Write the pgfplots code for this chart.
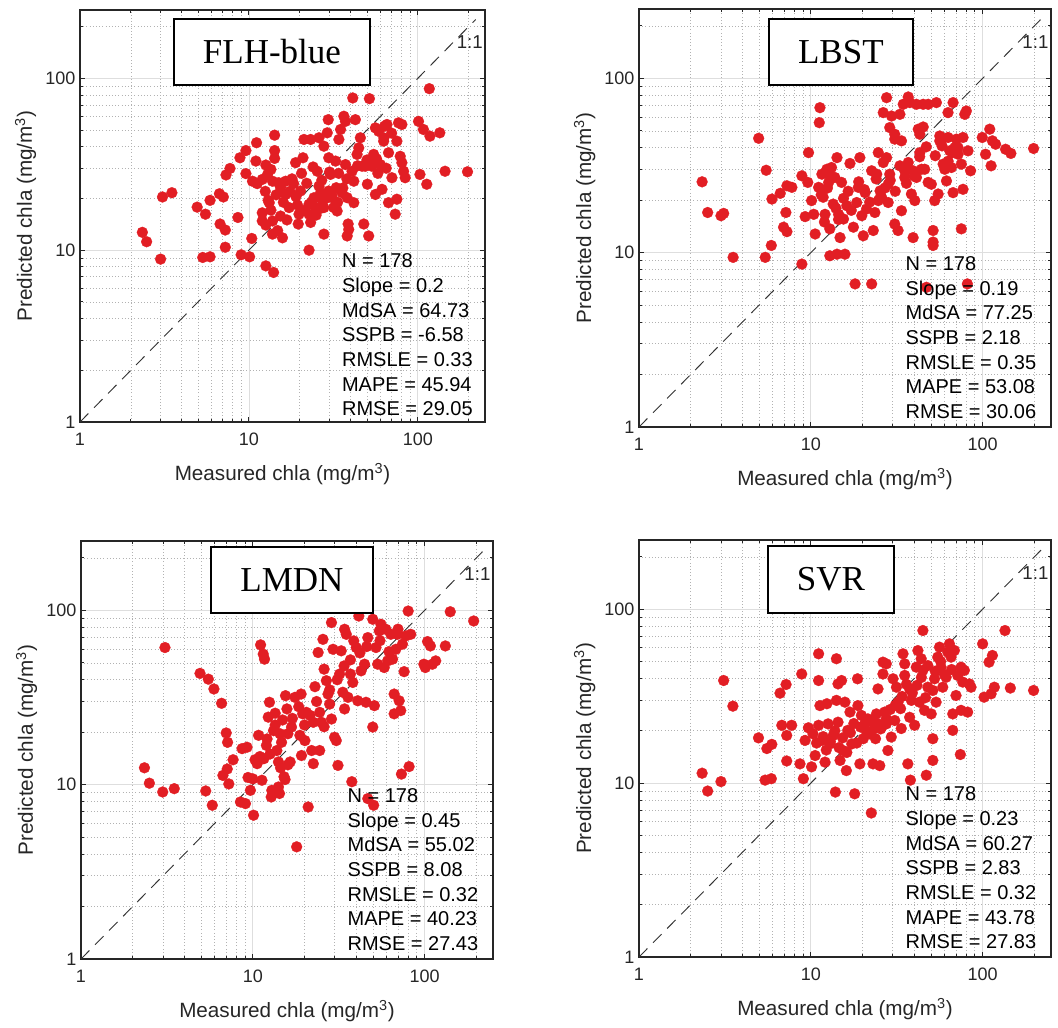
\documentclass[border=0pt]{standalone}
\usepackage{pgfplots}
\pgfplotsset{compat=1.18}
\usepackage{pgfplotstable}
\usepackage{fontspec}
\setmainfont{Liberation Sans}
\newfontfamily\titlefont{Liberation Serif}

\definecolor{dotred}{RGB}{226,30,36}
\definecolor{axgray}{RGB}{38,38,38}

% measured vs predicted chla, one table per model
\pgfplotstableread{
x y
2.34 12.7
2.48 11.2
3.0 8.87
3.08 20.4
3.5 21.6
4.94 17.8
5.53 16.2
5.33 9.07
5.89 9.15
5.89 19.5
6.69 21.3
7.06 20.4
6.75 14.2
7.25 13.1
7.25 10.4
7.32 27.4
7.73 29.9
8.61 15.5
8.85 34.5
9.6 38.0
9.6 27.9
9.0 9.4
10.1 9.15
10.4 11.7
11.1 42.2
11.0 33.0
10.5 25.2
11.2 24.4
12.0 25.8
12.6 31.3
12.9 27.6
12.0 14.8
12.6 14.0
12.6 8.1
14.0 7.42
14.2 46.7
14.2 38.0
14.2 34.2
13.5 29.5
13.8 25.2
13.2 18.9
13.5 17.1
13.8 14.8
13.8 12.4
15.0 24.7
15.4 23.1
15.4 15.8
15.8 11.8
16.5 25.2
16.5 21.1
17.3 17.7
18.4 24.4
18.9 32.3
19.4 18.3
19.8 16.2
19.6 14.2
20.2 22.1
20.9 34.5
21.2 44.1
22.7 10.0
23.2 44.1
22.7 18.5
22.7 16.2
23.2 14.5
24.3 20.2
24.8 17.7
25.4 28.8
26.0 45.1
26.0 23.6
26.6 21.6
27.2 19.3
27.8 17.7
27.8 12.4
27.8 40.3
29.1 48.2
29.5 57.5
29.7 34.5
30.4 27.6
29.7 22.1
31.1 20.2
31.8 17.7
32.6 33.0
32.9 23.1
33.3 16.9
34.1 44.1
34.9 50.4
35.6 21.6
36.5 60.2
37.3 56.2
37.3 31.5
38.2 20.2
38.7 14.2
38.2 12.1
39.0 13.2
41.2 76.9
40.8 28.8
41.8 25.2
41.8 18.9
42.7 57.5
43.7 36.1
44.7 39.4
45.7 45.1
46.8 30.8
47.9 14.2
48.9 30.8
50.3 24.2
51.2 12.1
51.7 76.2
53.5 30.8
54.8 36.1
56.1 21.1
56.1 51.5
58.7 49.2
60.0 31.5
61.4 22.6
62.8 43.1
63.6 52.7
65.7 53.9
67.1 18.9
67.1 36.9
70.3 26.4
73.5 16.2
75.2 19.8
75.2 43.1
76.9 55.1
78.7 35.2
80.5 53.9
80.5 32.3
82.4 28.8
84.2 26.4
101 56.2
103 27.6
108 50.4
113 24.2
117 87.1
118 46.1
135 48.2
145 28.8
197 28.6
12.5 22.0
13.0 19.5
14.5 21.0
16.0 19.0
17.5 22.0
19.0 20.5
21.0 17.0
23.5 19.0
25.0 16.0
26.5 17.5
28.5 20.0
31.0 21.0
33.5 19.0
36.0 23.0
12.0 16.5
14.8 13.0
16.8 15.0
18.0 26.0
20.5 28.0
22.0 24.5
24.0 30.5
27.0 25.5
30.0 28.5
34.0 28.0
38.0 26.0
44.0 31.0
50.0 33.5
57.0 34.0
63.0 45.0
70.0 48.0
58.0 28.0
65.0 30.0
}\flhblue

\pgfplotstableread{
x y
2.33 25.5
2.51 17.0
3.0 16.3
3.11 16.8
3.53 9.4
4.97 45.3
5.5 29.7
5.43 9.4
5.89 11.0
5.94 20.3
6.64 21.9
7.26 24.2
7.76 23.7
7.16 17.0
6.94 14.0
7.26 13.2
8.87 27.6
9.6 25.3
9.7 37.5
8.87 8.6
9.27 16.1
10.1 19.9
10.4 16.6
10.6 12.8
11.1 23.7
11.3 67.9
11.2 55.7
11.6 28.2
11.8 20.8
12.1 16.6
12.4 30.1
12.7 25.3
12.9 13.7
12.9 9.6
13.2 30.8
13.5 19.0
13.8 27.0
14.2 35.1
14.5 16.6
14.8 12.2
14.2 9.8
15.1 25.3
15.5 15.6
15.8 9.8
16.2 18.6
16.9 32.5
17.7 14.0
18.1 6.62
18.5 19.4
19.3 35.1
18.9 23.7
19.8 16.3
20.2 12.5
20.7 22.1
21.1 17.8
22.6 6.62
22.6 29.5
23.1 13.4
23.6 17.0
24.2 28.2
24.7 37.5
24.7 19.9
25.3 22.6
25.8 20.8
26.4 32.9
26.4 63.6
27.6 77.5
27.6 35.1
28.2 24.7
28.2 19.4
28.8 28.2
28.8 52.2
29.5 60.8
30.8 47.8
30.8 44.8
30.8 14.6
32.2 13.4
33.0 62.2
33.7 43.8
33.7 17.4
34.5 71.0
35.2 27.0
35.2 29.5
36.9 78.2
36.9 32.9
37.7 72.6
38.5 21.7
39.4 29.5
40.3 19.9
39.4 12.2
41.2 71.0
41.2 27.0
42.2 51.1
43.1 47.8
43.1 37.5
44.1 30.1
45.1 71.0
45.1 52.6
46.0 30.1
47.1 6.33
48.2 25.3
48.2 71.0
50.3 24.7
51.5 11.5
51.5 13.4
51.5 11.0
52.6 19.9
53.8 72.6
55.1 21.7
56.3 46.7
56.3 43.8
58.9 32.2
60.2 30.1
61.6 25.8
62.9 63.6
62.9 45.8
64.4 38.4
65.8 30.8
67.3 72.6
67.3 22.1
68.9 40.1
70.4 44.8
72.0 36.7
75.2 32.2
75.2 13.7
76.9 45.8
76.9 23.1
78.7 62.2
80.4 65.0
81.5 6.62
82.2 38.4
85.1 29.5
99.5 45.8
104 36.7
110 51.1
112 31.5
114 43.8
119 41.9
136 39.2
146 37.1
198 39.6
11.5 21.5
12.5 23.5
13.0 27.5
14.0 18.0
15.5 20.5
16.5 22.5
17.2 17.5
19.0 25.5
20.5 23.0
22.0 19.5
24.0 26.5
25.5 21.0
27.0 23.5
29.0 26.0
31.0 22.5
33.0 31.5
36.0 25.0
40.0 27.5
43.0 35.5
47.0 40.5
53.0 36.0
58.0 41.0
63.0 33.5
67.0 37.5
72.0 40.0
12.0 15.0
14.5 15.5
}\lbst

\pgfplotstableread{
x y
2.34 12.5
2.50 10.2
2.99 9.08
3.49 9.49
3.08 61.2
4.93 43.5
5.51 40.3
5.94 35.4
6.58 29.3
5.32 9.2
5.81 7.62
7.0 19.8
7.13 17.5
6.70 11.3
7.10 12.3
7.25 10.1
7.68 13.9
8.66 16.1
9.25 16.4
8.47 7.96
9.06 7.79
9.38 11.0
9.68 9.28
10.1 6.68
10.0 10.8
10.3 13.9
10.6 13.2
10.8 19.2
11.1 63.4
11.5 56.1
11.7 52.5
11.3 10.6
11.6 14.1
12.1 18.3
12.3 24.4
12.5 29.7
12.6 15.0
12.8 8.5
12.9 9.28
13.2 20.4
13.5 25.7
13.8 15.7
14.1 13.5
14.1 9.7
14.3 8.9
14.4 19.6
14.7 17.5
14.9 23.5
15.2 11.1
15.4 10.7
15.5 32.4
15.8 27.2
16.0 19.6
16.5 13.5
16.8 21.4
17.6 31.7
18.0 4.4
18.8 19.2
19.1 33.1
19.2 14.7
19.5 25.5
20.1 17.9
20.5 26.0
21.0 7.45
22.0 15.7
22.5 22.8
22.5 13.2
23.0 36.5
24.0 57.3
24.5 26.0
24.5 15.7
25.1 22.8
25.6 68.2
26.0 46.0
26.8 39.5
27.4 33.1
28.0 29.0
28.7 85.1
28.7 23.8
29.3 59.8
29.9 18.7
30.6 17.9
31.3 12.9
32.0 43.1
32.7 58.6
33.4 33.9
34.2 77.9
34.2 27.2
35.0 72.9
35.8 31.7
37.0 43.1
37.7 10.4
38.2 38.6
38.7 66.8
40.0 61.2
40.8 30.3
41.4 92.8
42.7 45.0
44.7 49.1
45.6 29.7
46.7 8.32
46.7 69.8
49.9 21.4
49.9 88.9
50.5 7.62
51.0 28.4
52.1 61.2
53.3 49.1
54.5 76.2
55.7 83.2
58.2 47.0
59.5 77.9
60.9 51.3
63.6 72.9
65.1 52.5
66.5 33.1
66.5 25.5
68.0 59.8
69.5 72.9
71.1 30.3
72.6 26.6
73.3 11.5
74.3 64.0
76.0 44.5
77.6 71.3
80.2 99.1
81.2 12.7
83.0 72.9
99 49.1
101 47.0
104 66.2
108 62.5
111 49.1
116 51.3
132 62.5
141 98.2
193 86.9
11.0 14.5
12.0 16.8
13.5 22.0
14.5 12.5
16.0 13.0
17.0 24.0
18.5 28.0
20.0 22.0
21.5 25.0
23.5 30.0
26.0 21.5
28.0 35.0
31.0 40.0
34.0 48.0
37.0 52.0
42.0 57.0
46.0 62.0
55.0 67.0
62.0 58.0
70.0 78.0
}\lmdn

\pgfplotstableread{
x y
2.33 11.4
2.51 9.0
3.0 10.2
3.11 38.9
3.52 27.7
4.96 18.2
5.42 10.4
5.55 15.8
5.93 16.7
5.89 10.6
6.62 32.9
7.18 36.9
6.78 21.5
7.24 18.8
7.74 21.5
7.24 13.4
8.85 42.4
8.65 12.9
9.05 10.6
9.26 17.6
9.68 20.8
10.1 12.4
10.3 19.2
10.6 14.4
11.1 55.4
11.1 38.9
11.3 27.9
11.1 21.5
11.6 17.6
12.1 13.2
12.4 28.6
12.6 21.9
12.9 16.8
13.5 18.8
13.9 8.88
14.1 51.9
14.4 37.2
14.1 29.9
14.4 22.4
14.8 13.5
15.1 38.9
15.4 15.4
15.8 29.2
16.1 11.8
16.4 20.1
16.9 25.6
17.3 16.8
18.0 8.68
18.7 39.8
18.8 27.9
19.3 12.9
19.7 24.5
20.2 18.0
20.6 21.9
21.5 23.4
22.0 19.2
22.5 6.73
23.0 12.9
23.5 20.6
24.1 25.0
24.6 34.8
25.2 12.6
25.8 21.0
26.3 49.6
26.3 42.4
26.9 25.6
27.5 48.5
27.5 21.9
28.1 15.4
29.4 18.4
30.1 39.8
30.8 22.9
31.5 35.6
32.2 29.2
33.3 26.8
33.6 20.6
34.4 55.4
35.2 41.6
35.2 48.5
36.7 12.9
37.6 34.8
37.6 23.9
38.0 10.4
38.5 29.9
40.2 21.5
41.1 46.4
42.0 57.8
42.9 29.2
43.9 51.9
44.9 44.5
44.9 75.4
45.9 26.2
47.0 11.1
48.0 35.6
48.0 47.4
50.2 25.0
51.3 13.5
51.3 18.0
51.3 34.1
52.5 39.8
53.6 29.2
54.8 53.0
56.1 60.5
57.3 46.4
58.6 35.6
61.3 40.6
62.7 56.6
64.1 63.2
65.5 53.0
67.0 25.0
67.0 20.1
68.5 57.9
70.0 31.9
71.6 41.6
74.2 14.6
74.9 46.4
74.9 26.2
76.6 38.1
78.3 44.5
81.8 25.6
83.7 37.2
85.6 35.6
100 63.2
102 31.2
109 49.6
112 32.6
114 54.2
117 35.6
135 75.4
145 35.2
198 34.1
10.8 17.0
11.8 18.5
12.3 15.5
13.0 17.3
13.8 20.0
14.6 16.0
15.3 18.2
16.2 15.0
17.0 19.5
17.8 22.0
18.5 17.0
19.5 21.0
21.0 20.0
22.5 22.5
23.8 18.0
24.5 22.0
25.5 20.5
27.5 23.5
29.0 26.5
31.0 28.0
34.0 31.5
36.0 37.0
39.0 33.0
41.5 36.5
44.0 40.5
46.5 31.0
53.0 44.0
57.0 50.0
60.0 42.0
66.0 45.0
}\svr

\pgfplotsset{
  chlapanel/.style={
    scale only axis,
    xmin=1, xmax=250, ymin=1, ymax=250,
    xtick={1,10,100}, ytick={1,10,100},
    xticklabels={1,10,100}, yticklabels={1,10,100},
    minor xtick={2,3,4,5,6,7,8,9,20,30,40,50,60,70,80,90,200},
    minor ytick={2,3,4,5,6,7,8,9,20,30,40,50,60,70,80,90,200},
    grid=both,
    major grid style={draw=black!13, line width=0.55pt},
    minor grid style={draw=black!30, line width=0.5pt, dash pattern=on 0.6pt off 1.8pt},
    tick align=inside,
    major tick length=3.5pt, minor tick length=2pt,
    every tick/.append style={axgray, line width=0.6pt},
    axis line style={axgray, line width=0.8pt},
    tick label style={font=\fontsize{13.5}{15}\selectfont, text=axgray},
    xticklabel style={yshift=-5pt},
    clip mode=individual,
  },
}
\tikzset{
  chladots/.style={mark=*, mark size=4.1pt,
    mark options={fill=dotred, draw=dotred, line width=0.2pt}},
  oneone/.style={black!80, line width=0.7pt, dash pattern=on 9pt off 6pt},
  modelbox/.style={draw=black, line width=1.5pt, fill=white,
    minimum height=50pt, inner xsep=22pt,
    font=\titlefont\fontsize{26.25}{30}\selectfont},
}

\newcommand{\panellabels}{%
  \node[anchor=base, yshift=-44pt, font=\fontsize{15.5}{18}\selectfont, text=axgray]
    at (rel axis cs:0.5,0) {Measured chla (mg/m\textsuperscript{3})};
  \node[xshift=-36pt, rotate=90, anchor=base, font=\fontsize{15.5}{18}\selectfont, text=axgray]
    at (rel axis cs:0,0.5) {Predicted chla (mg/m\textsuperscript{3})};
  \node[font=\fontsize{14}{16}\selectfont, text=axgray] at (axis cs:203,162) {1:1};
}
\newcommand{\statblock}[6]{%
  \node[anchor=north west, align=left, inner sep=0pt, text=black,
        font=\fontsize{15}{18.5}\selectfont]
    at (axis cs:35.5,9.55)
    {N = 178\\Slope = #1\\MdSA = #2\\SSPB = #3\\RMSLE = #4\\MAPE = #5\\RMSE = #6};
}

\begin{document}
\begin{tikzpicture}
\path[use as bounding box] (0,0) rectangle (793.5pt,771pt);

% FLH-blue
\begin{loglogaxis}[chlapanel, at={(60pt,454.5pt)}, anchor=south west,
  width=303.75pt, height=309pt]
  \addplot[oneone] coordinates {(1,1) (220,220)};
  \addplot[only marks, chladots] table[x=x, y=y] {\flhblue};
  \panellabels
  \statblock{0.2}{64.73}{-6.58}{0.33}{45.94}{29.05}
  \node[modelbox] at (rel axis cs:0.474,0.898) {FLH-blue};
\end{loglogaxis}

% LBST
\begin{loglogaxis}[chlapanel, at={(479.25pt,450.75pt)}, anchor=south west,
  width=309pt, height=313.5pt]
  \addplot[oneone] coordinates {(1,1) (220,220)};
  \addplot[only marks, chladots] table[x=x, y=y] {\lbst};
  \panellabels
  \statblock{0.19}{77.25}{2.18}{0.35}{53.08}{30.06}
  \node[modelbox] at (rel axis cs:0.490,0.897) {LBST};
\end{loglogaxis}

% LMDN
\begin{loglogaxis}[chlapanel, at={(60.75pt,51.75pt)}, anchor=south west,
  width=309pt, height=313.5pt]
  \addplot[oneone] coordinates {(1,1) (220,220)};
  \addplot[only marks, chladots] table[x=x, y=y] {\lmdn};
  \panellabels
  \statblock{0.45}{55.02}{8.08}{0.32}{40.23}{27.43}
  \node[modelbox] at (rel axis cs:0.512,0.907) {LMDN};
\end{loglogaxis}

% SVR
\begin{loglogaxis}[chlapanel, at={(479.25pt,53.25pt)}, anchor=south west,
  width=309pt, height=312.75pt]
  \addplot[oneone] coordinates {(1,1) (220,220)};
  \addplot[only marks, chladots] table[x=x, y=y] {\svr};
  \panellabels
  \statblock{0.23}{60.27}{2.83}{0.32}{43.78}{27.83}
  \node[modelbox] at (rel axis cs:0.466,0.906) {SVR};
\end{loglogaxis}
\end{tikzpicture}
\end{document}
